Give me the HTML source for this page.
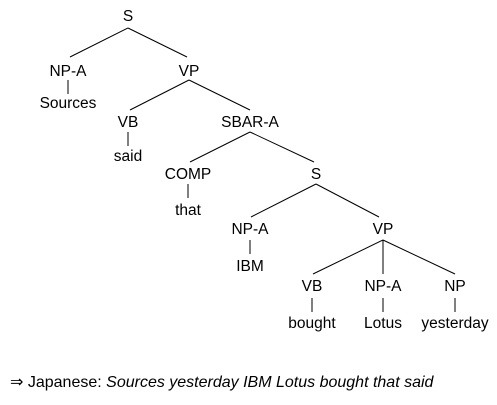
<!DOCTYPE html>
<html><head><meta charset="utf-8"><style>
html,body{margin:0;padding:0;background:#fff;}
svg text{font-family:"Liberation Sans","DejaVu Sans",sans-serif;font-size:15.5px;fill:#000;text-anchor:middle;}
</style></head><body>
<svg width="497" height="400" viewBox="0 0 497 400" xmlns="http://www.w3.org/2000/svg">
<g stroke="#000" stroke-width="1" fill="none">
<line x1="128" y1="28" x2="70" y2="57"/>
<line x1="128" y1="28" x2="187" y2="57"/>
<line x1="68" y1="80" x2="68" y2="94"/>
<line x1="189" y1="80" x2="130" y2="110"/>
<line x1="189" y1="80" x2="250" y2="110"/>
<line x1="128" y1="132" x2="128" y2="146"/>
<line x1="250" y1="132" x2="190" y2="162"/>
<line x1="250" y1="132" x2="314" y2="162"/>
<line x1="188" y1="184" x2="188" y2="198"/>
<line x1="316" y1="184" x2="251" y2="217"/>
<line x1="316" y1="184" x2="379" y2="217"/>
<line x1="250" y1="240" x2="250" y2="254"/>
<line x1="383" y1="240" x2="313" y2="274"/>
<line x1="383" y1="240" x2="383" y2="274"/>
<line x1="383" y1="240" x2="455" y2="274"/>
<line x1="312" y1="298" x2="312" y2="312"/>
<line x1="383" y1="298" x2="383" y2="312"/>
<line x1="455" y1="298" x2="455" y2="312"/>
</g>
<text x="128" y="21">S</text>
<text x="68" y="76">NP-A</text>
<text x="189" y="76">VP</text>
<text x="68" y="108">Sources</text>
<text x="128" y="127">VB</text>
<text x="250" y="127">SBAR-A</text>
<text x="128" y="161">said</text>
<text x="188" y="179">COMP</text>
<text x="316" y="179">S</text>
<text x="188" y="215">that</text>
<text x="250" y="234">NP-A</text>
<text x="383" y="234">VP</text>
<text x="250" y="271">IBM</text>
<text x="312" y="291">VB</text>
<text x="383" y="291">NP-A</text>
<text x="455" y="291">NP</text>
<text x="312" y="328">bought</text>
<text x="383" y="328">Lotus</text>
<text x="455" y="328">yesterday</text>
<text x="10" y="387" style="text-anchor:start;font-size:16px">⇒ Japanese: <tspan font-style="italic">Sources yesterday IBM Lotus bought that said</tspan></text>
</svg>
</body></html>
